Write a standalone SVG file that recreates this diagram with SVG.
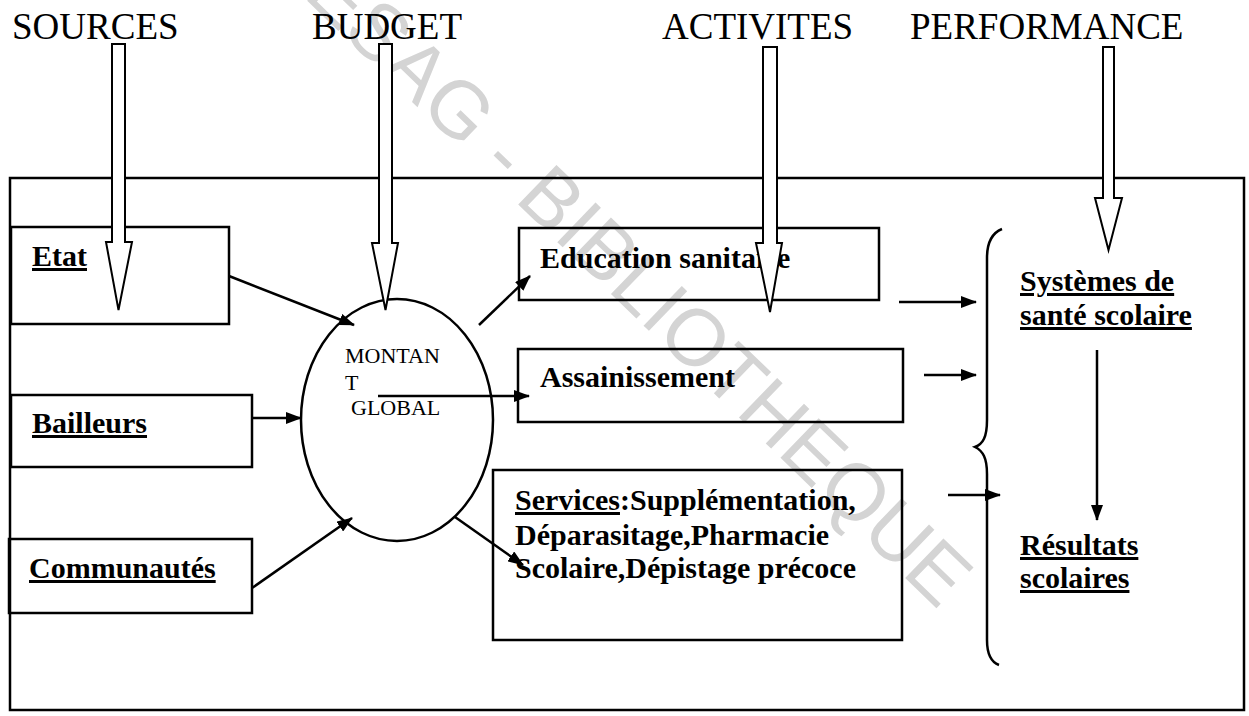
<svg xmlns="http://www.w3.org/2000/svg" width="1249" height="716" viewBox="0 0 1249 716">
  <style>
    .title { font-family: "Liberation Serif", "Times New Roman", serif; font-size: 37px; fill: #000; }
    .lbl { font-family: "Liberation Serif", "Times New Roman", serif; font-size: 30px; font-weight: bold; fill: #000; }
    .ul { text-decoration: underline; }
    .small { font-family: "Liberation Serif", "Times New Roman", serif; font-size: 22px; fill: #000; }
    .box { fill: none; stroke: #000; stroke-width: 2.5; }
    .hollow { fill: #fff; stroke: #000; stroke-width: 2; stroke-linejoin: miter; }
    .conn { fill: none; stroke: #000; stroke-width: 2.5; marker-end: url(#ah); }
    .wm { font-family: "Liberation Sans", Arial, sans-serif; font-size: 80px; fill: #d4d4d4; }
  </style>
  <defs>
    <marker id="ah" viewBox="0 0 16 12" refX="15" refY="6" markerWidth="16" markerHeight="12" markerUnits="userSpaceOnUse" orient="auto">
      <path d="M0,0 L16,6 L0,12 z" fill="#000"/>
    </marker>
  </defs>

  <rect width="1249" height="716" fill="#fff"/>

  <!-- library stamp -->
  <text class="wm" transform="translate(261,-44) rotate(44)" x="0" y="0">CESAG - BIBLIOTHEQUE</text>

  <!-- column headings -->
  <g id="headings">
    <text class="title" x="12" y="39">SOURCES</text>
    <text class="title" x="312" y="39">BUDGET</text>
    <text class="title" x="662" y="39">ACTIVITES</text>
    <text class="title" x="910" y="39">PERFORMANCE</text>
  </g>

  <!-- outer frame -->
  <rect id="frame" class="box" x="10" y="178" width="1234" height="532"/>

  <!-- sources -->
  <g id="etat">
    <rect class="box" x="11" y="227" width="218" height="97"/>
    <text class="lbl ul" x="32" y="266">Etat</text>
  </g>
  <g id="bailleurs">
    <rect class="box" x="11" y="395" width="241" height="72"/>
    <text class="lbl ul" x="32" y="433">Bailleurs</text>
  </g>
  <g id="communautes">
    <rect class="box" x="9" y="539" width="243" height="74"/>
    <text class="lbl ul" x="29" y="578">Communautés</text>
  </g>

  <!-- budget -->
  <g id="montant">
    <ellipse cx="397" cy="420" rx="96" ry="121" fill="none" stroke="#000" stroke-width="2.5"/>
    <text class="small" x="345" y="363">MONTAN</text>
    <text class="small" x="345" y="390">T</text>
    <text class="small" x="351" y="415">GLOBAL</text>
  </g>

  <!-- activities -->
  <g id="education">
    <rect class="box" x="519" y="228" width="360" height="72"/>
    <text class="lbl" x="540" y="268">Education sanitaire</text>
  </g>
  <g id="assainissement">
    <rect class="box" x="518" y="349" width="385" height="73"/>
    <text class="lbl" x="540" y="387">Assainissement</text>
  </g>
  <g id="services">
    <rect class="box" x="493" y="470" width="409" height="170"/>
    <text class="lbl" x="515" y="510"><tspan class="ul">Services</tspan>:Supplémentation,</text>
    <text class="lbl" x="515" y="545">Déparasitage,Pharmacie</text>
    <text class="lbl" x="515" y="578">Scolaire,Dépistage précoce</text>
  </g>

  <!-- performance -->
  <g id="systemes">
    <text class="lbl ul" x="1020" y="291">Systèmes de</text>
    <text class="lbl ul" x="1020" y="325">santé scolaire</text>
  </g>
  <g id="resultats">
    <text class="lbl ul" x="1020" y="555">Résultats</text>
    <text class="lbl ul" x="1020" y="588">scolaires</text>
  </g>
  <path id="brace" d="M1002,229 C992,233 987,242 987,258 L987,420 C987,437 983,444 975,447 C983,451 987,458 987,474 L987,640 C987,655 991,662 999,665" fill="none" stroke="#000" stroke-width="2.5"/>

  <!-- connectors -->
  <g id="connectors">
    <line class="conn" x1="229" y1="276" x2="354" y2="325"/>
    <line class="conn" x1="252" y1="418" x2="301" y2="418"/>
    <line class="conn" x1="252" y1="588" x2="352" y2="518"/>
    <line class="conn" x1="479" y1="325" x2="530" y2="276"/>
    <line class="conn" x1="378" y1="396" x2="529" y2="396"/>
    <line class="conn" x1="455" y1="517" x2="523" y2="565"/>
    <line class="conn" x1="899" y1="302" x2="976" y2="302"/>
    <line class="conn" x1="924" y1="375" x2="976" y2="375"/>
    <line class="conn" x1="948" y1="495" x2="1000" y2="495"/>
    <line class="conn" x1="1097" y1="350" x2="1097" y2="520"/>
  </g>

  <!-- hollow heading arrows -->
  <g id="heading-arrows">
    <path class="hollow" d="M112,44 H125 V242 H132 L118.5,310 L106,242 H112 Z"/>
    <path class="hollow" d="M379,44 H392 V243 H398 L385.5,310 L372,243 H379 Z"/>
    <path class="hollow" d="M763,47 H777 V243 H782 L770,312 L756,243 H763 Z"/>
    <path class="hollow" d="M1103,47 H1114 V198 H1122 L1108.5,250 L1095,198 H1103 Z"/>
  </g>
</svg>
